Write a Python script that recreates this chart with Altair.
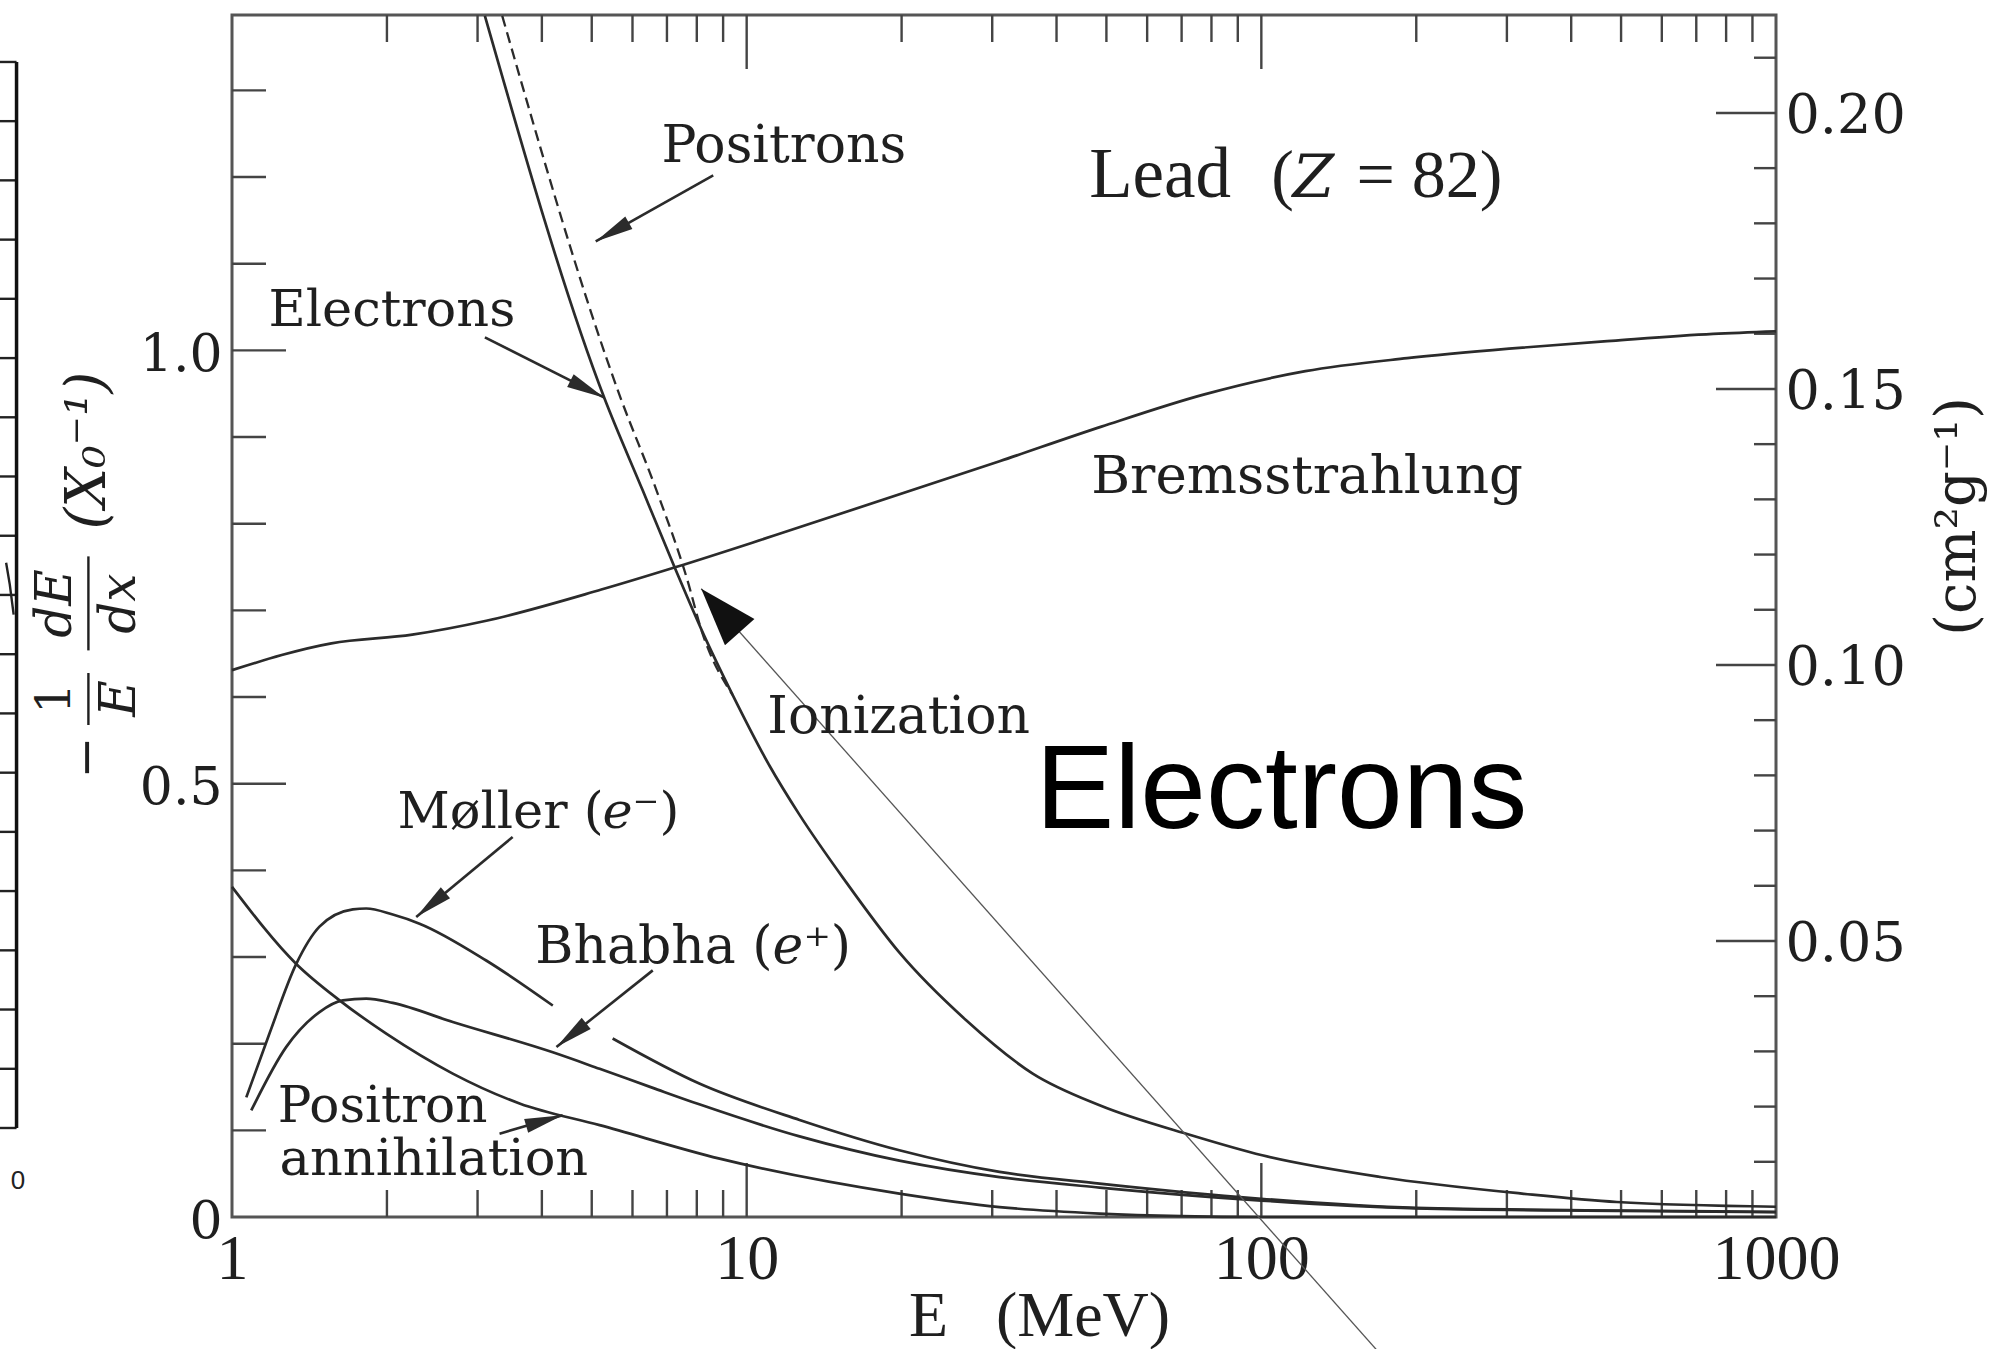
import math
import altair as alt
import pandas as pd

# Plot-area size in pixels and the y extent in units of X0^-1
W, H = 1544, 1202
YMAX = 1.387
X0_LEAD = 6.37  # radiation length of lead in g cm^-2 (X0^-1 -> cm^2 g^-1)

INK = "#2b2b2b"
TXT = "#1f1f1f"

# ---- fractional energy loss per radiation length in lead -----------------
brems_E = [1, 1.56, 2.24, 3.12, 5.22, 7.29, 11.27, 31, 48.9, 77.2, 121.8, 192, 303, 479, 755, 1000]
brems_v = [0.631, 0.662, 0.672, 0.688, 0.724, 0.750, 0.786, 0.872, 0.912, 0.949, 0.976, 0.991,
           1.002, 1.011, 1.019, 1.022]

ion_e_E = [3.10, 5.29, 6.28, 7.24, 8.28, 9.39, 11.07, 12.67, 15.49, 19.81, 26.7, 35.96, 48.5,
           73.1, 100.4, 170.3, 321, 490.6, 1000]
ion_e_v = [1.386, 0.945, 0.8385, 0.750, 0.670, 0.6025, 0.521, 0.464, 0.389, 0.305, 0.227, 0.1655,
           0.1289, 0.0943, 0.0712, 0.0462, 0.027, 0.0173, 0.0118]

ion_p_E = [3.35, 5.69, 6.68, 7.67, 8.17, 9.39]
ion_p_v = [1.386, 0.945, 0.8385, 0.735, 0.677, 0.6025]

moller_lo_E = [1.066, 1.183, 1.333, 1.479, 1.717, 1.823, 2.053, 2.314, 3.118, 4.20]
moller_lo_v = [0.138, 0.212, 0.292, 0.335, 0.355, 0.356, 0.349, 0.3385, 0.296, 0.244]
moller_hi_E = [5.49, 8.09, 12.67, 19.8, 31, 48.5, 100, 200, 500, 1000]
moller_hi_v = [0.206, 0.154, 0.112, 0.077, 0.052, 0.0385, 0.021, 0.0105, 0.0075, 0.006]

bhabha_E = [1.09, 1.274, 1.479, 1.642, 1.823, 2.053, 2.685, 4.20, 5.18, 6.57, 8.09, 12.67, 19.8,
            31, 48.5, 100, 200, 500, 1000]
bhabha_v = [0.123, 0.196, 0.2365, 0.250, 0.252, 0.247, 0.225, 0.190, 0.171, 0.149, 0.130, 0.093,
            0.065, 0.046, 0.034, 0.019, 0.010, 0.007, 0.0055]

annih_E = [1, 1.333, 1.618, 1.994, 2.685, 3.62, 5.18, 8.86, 19.8, 31, 48.5, 70, 100, 1000]
annih_v = [0.381, 0.292, 0.250, 0.2116, 0.1655, 0.131, 0.106, 0.0673, 0.027, 0.0115, 0.004,
           0.001, 0.0, 0.0]

# thin straight guide line ending in the large arrow head
guide_E = [8.16, 167.3]
guide_v = [0.725, -0.153]

# annotation arrows: start -> tip
arrow_E0 = [8.61, 3.10, 3.51, 6.57, 3.31]
arrow_v0 = [1.202, 1.015, 0.4385, 0.2846, 0.0962]
arrow_E1 = [5.09, 5.29, 2.28, 4.27, 4.39]
arrow_v1 = [1.1257, 0.9454, 0.3461, 0.1961, 0.1173]

# tick positions
left_minor = [0.1, 0.2, 0.3, 0.4, 0.6, 0.7, 0.8, 0.9, 1.1, 1.2, 1.3]
left_major = [0.5, 1.0]
right_minor = [0.01, 0.02, 0.03, 0.04, 0.06, 0.07, 0.08, 0.09, 0.11, 0.12, 0.13, 0.14,
               0.16, 0.17, 0.18, 0.19, 0.21]
right_major = [0.05, 0.10, 0.15, 0.20]
x_minor = [2, 3, 4, 5, 6, 7, 8, 9, 20, 30, 40, 50, 60, 70, 80, 90, 200, 300, 400, 500, 600,
           700, 800, 900]
x_major = [10, 100]

# text labels (left end of the baseline, in data units)
serif_text = ["Positrons", "Electrons", "Bremsstrahlung", "Ionization", "Møller (", "⁻)",
              "Bhabha (", "⁺)", "Positron", "annihilation"]
serif_E = [6.83, 1.177, 46.7, 10.97, 2.097, 6.0, 3.885, 12.89, 1.227, 1.237]
serif_v = [1.217, 1.028, 0.836, 0.558, 0.4485, 0.4485, 0.2927, 0.2927, 0.1096, 0.0481]
serif_size = [52, 51, 53, 52, 51, 51, 52, 52, 50, 51]

italic_text = ["e", "e"]
italic_E = [5.246, 11.22]
italic_v = [0.4485, 0.2927]
italic_size = [51, 52]

lead_text = ["Lead", "(", "= 82)"]
lead_E = [46.3, 104.5, 153.0]
lead_v = [1.1765, 1.1765, 1.1765]
lead_size = [71, 68, 68]

# left-hand quantity  -(1/E) dE/dx (X0^-1), typeset as stacked fractions, read bottom-to-top
ylab_text = ["−", "1", "E", "dE", "dx", "(X₀⁻¹)"]
ylab_E = [0.526, 0.456, 0.607, 0.456, 0.607, 0.526]
ylab_v = [0.5304, 0.5984, 0.5984, 0.7078, 0.7078, 0.8844]
ylab_italic = [False, False, True, True, True, True]
ylab_size = [50, 48, 50, 50, 50, 56]
frac_E = [0.526, 0.526]
frac_v0 = [0.5677, 0.6538]
frac_v1 = [0.6277, 0.7623]

# fragment of the neighbouring panel, cut by the left page edge
side_x = [0.3534, 0.3814]            # left page edge, panel frame
side_ticks = [0.1027, 0.1710, 0.2394, 0.3077, 0.3761, 0.4444, 0.5127, 0.5811, 0.6494,
              0.7178, 0.7861, 0.8545, 0.9228, 0.9911, 1.0595, 1.1278, 1.1962, 1.2645, 1.3328]
side_curve_E = [0.3640, 0.3700, 0.3765]
side_curve_v = [0.7550, 0.7300, 0.6950]


def curve(E, v, name):
    return pd.DataFrame({"E": E, "v": v, "curve": name})


def head_angle(E0, v0, E1, v1):
    dx = (math.log10(E1) - math.log10(E0)) * W / 3
    dy = -(v1 - v0) * H / YMAX
    return math.degrees(math.atan2(dx, -dy)) % 360


xs = alt.Scale(type="log", domain=[1, 1000], nice=False)
ys = alt.Scale(domain=[0, YMAX], nice=False, zero=False)
X = alt.X("E:Q", scale=xs, axis=None)
Y = alt.Y("v:Q", scale=ys, axis=None)

x_axis = alt.Axis(orient="bottom", values=[1, 10, 100, 1000], format="d", ticks=False,
                  domain=False, grid=False,
                  labelFont="Liberation Serif", labelFontSize=64, labelColor=TXT, labelPadding=10,
                  labelFlush=False, labelOverlap=False,
                  title="E\u00a0\u00a0\u00a0(MeV)", titleFont="Liberation Serif", titleFontSize=64,
                  titleFontWeight="normal", titleColor=TXT, titleX=807, titleY=118,
                  titleAlign="center", titleBaseline="alphabetic")
y_axis = alt.Axis(orient="left", values=[0, 0.5, 1.0],
                  labelExpr="datum.value == 0 ? '0' : format(datum.value, '.1f')",
                  ticks=False, domain=False, grid=False, title="",
                  labelFont="DejaVu Serif", labelFontSize=52, labelColor=TXT, labelPadding=10,
                  labelOffset=4, labelFlush=False, labelOverlap=False)
# second y axis on the same scale, labelled in cm^2 g^-1
right_axis = alt.Axis(orient="right", values=[k * X0_LEAD for k in right_major],
                      labelExpr=f"format(datum.value / {X0_LEAD}, '.2f')",
                      ticks=False, domain=False, grid=False,
                      labelFont="DejaVu Serif", labelFontSize=54, labelColor=TXT,
                      labelPadding=9, labelOffset=4, labelFlush=False, labelOverlap=False,
                      title="(cm²g⁻¹)", titleFont="DejaVu Serif", titleFontSize=56,
                      titleFontWeight="normal", titleColor=TXT, titleAngle=270, titleX=181,
                      titleY=501, titleAlign="center", titleBaseline="middle")

solid = pd.concat([
    curve(brems_E, brems_v, "brems"),
    curve(ion_e_E, ion_e_v, "ion_e"),
    curve(moller_lo_E, moller_lo_v, "moller_lo"),
    curve(moller_hi_E, moller_hi_v, "moller_hi"),
    curve(bhabha_E, bhabha_v, "bhabha"),
    curve(annih_E, annih_v, "annih"),
])

curves = alt.Chart(solid).mark_line(color=INK, strokeWidth=2.7, interpolate="monotone",
                                    clip=False).encode(X, Y, detail="curve:N")
dashed = alt.Chart(curve(ion_p_E, ion_p_v, "ion_p")).mark_line(
    color=INK, strokeWidth=2.3, strokeDash=[11, 6], interpolate="monotone").encode(X, Y)
guide = alt.Chart(curve(guide_E, guide_v, "guide")).mark_line(
    color="#555555", strokeWidth=1.3, clip=False).encode(X, Y)

arrows = pd.DataFrame({"E0": arrow_E0, "v0": arrow_v0, "E1": arrow_E1, "v1": arrow_v1})
arrows["ang"] = [head_angle(a, b, c, d) for a, b, c, d in zip(arrow_E0, arrow_v0, arrow_E1, arrow_v1)]
shafts = alt.Chart(arrows).mark_rule(color=INK, strokeWidth=2.6).encode(
    x=alt.X("E0:Q", scale=xs, axis=None), y=alt.Y("v0:Q", scale=ys, axis=None),
    x2="E1:Q", y2="v1:Q")
heads = alt.Chart(arrows).mark_point(shape="M0,0L0.38,2L-0.38,2Z", filled=True, size=1444,
                                     color=INK, opacity=1, strokeWidth=0).encode(
    x=alt.X("E1:Q", scale=xs, axis=None), y=alt.Y("v1:Q", scale=ys, axis=None),
    angle=alt.Angle("ang:Q", scale=None))

big_head_df = pd.DataFrame({"E": [guide_E[0]], "v": [guide_v[0]],
                            "ang": [head_angle(guide_E[1], guide_v[1], guide_E[0], guide_v[0])]})
big_head = alt.Chart(big_head_df).mark_point(shape="M0,0L0.68,2L-0.68,2Z", filled=True, size=3364,
                                             color="#111111", opacity=1, strokeWidth=0).encode(
    X, Y, angle=alt.Angle("ang:Q", scale=None))

# inward-pointing ticks on all four sides
tick_style = dict(color="#444444", strokeWidth=2.4)
lmin = alt.Chart(pd.DataFrame({"v": left_minor})).mark_rule(**tick_style).encode(
    y=alt.Y("v:Q", scale=ys, axis=y_axis), x=alt.value(0), x2=alt.value(34))
lmaj = alt.Chart(pd.DataFrame({"v": left_major})).mark_rule(**tick_style).encode(
    Y, x=alt.value(0), x2=alt.value(54))
rmin = alt.Chart(pd.DataFrame({"k": right_minor})).transform_calculate(
    v=f"datum.k * {X0_LEAD}").mark_rule(**tick_style).encode(
    y=alt.Y("v:Q", scale=ys, axis=right_axis), x=alt.value(W - 22), x2=alt.value(W))
rmaj = alt.Chart(pd.DataFrame({"k": right_major})).transform_calculate(
    v=f"datum.k * {X0_LEAD}").mark_rule(**tick_style).encode(
    Y, x=alt.value(W - 60), x2=alt.value(W))
bmin = alt.Chart(pd.DataFrame({"E": x_minor})).mark_rule(**tick_style).encode(
    x=alt.X("E:Q", scale=xs, axis=x_axis), y=alt.value(H), y2=alt.value(H - 27))
bmaj = alt.Chart(pd.DataFrame({"E": x_major})).mark_rule(**tick_style).encode(
    X, y=alt.value(H), y2=alt.value(H - 54))
tmin = alt.Chart(pd.DataFrame({"E": x_minor})).mark_rule(**tick_style).encode(
    X, y=alt.value(0), y2=alt.value(27))
tmaj = alt.Chart(pd.DataFrame({"E": x_major})).mark_rule(**tick_style).encode(
    X, y=alt.value(0), y2=alt.value(54))

# left-hand quantity, rotated
ylab_df = pd.DataFrame({"E": ylab_E, "v": ylab_v, "t": ylab_text, "fs": ylab_size,
                        "it": ylab_italic})
ylab_up = alt.Chart(ylab_df[~ylab_df["it"]]).mark_text(
    angle=270, align="center", baseline="middle", font="DejaVu Serif", color=TXT).encode(
    X, Y, text="t:N", size=alt.Size("fs:Q", scale=None))
ylab_it = alt.Chart(ylab_df[ylab_df["it"]]).mark_text(
    angle=270, align="center", baseline="middle", font="DejaVu Serif", fontStyle="italic",
    color=TXT).encode(X, Y, text="t:N", size=alt.Size("fs:Q", scale=None))
frac_bars = alt.Chart(pd.DataFrame({"E": frac_E, "v0": frac_v0, "v1": frac_v1})).mark_rule(
    color=TXT, strokeWidth=2.4, clip=False).encode(
    X, y=alt.Y("v0:Q", scale=ys, axis=None), y2="v1:Q")

# labels
serif_df = pd.DataFrame({"E": serif_E, "v": serif_v, "t": serif_text, "fs": serif_size})
serif_labels = alt.Chart(serif_df).mark_text(align="left", baseline="alphabetic",
                                             font="DejaVu Serif", color=TXT).encode(
    X, Y, text="t:N", size=alt.Size("fs:Q", scale=None))
italic_df = pd.DataFrame({"E": italic_E, "v": italic_v, "t": italic_text, "fs": italic_size})
italic_labels = alt.Chart(italic_df).mark_text(align="left", baseline="alphabetic",
                                               font="DejaVu Serif", fontStyle="italic",
                                               color=TXT).encode(
    X, Y, text="t:N", size=alt.Size("fs:Q", scale=None))
lead_df = pd.DataFrame({"E": lead_E, "v": lead_v, "t": lead_text, "fs": lead_size})
lead_labels = alt.Chart(lead_df).mark_text(align="left", baseline="alphabetic",
                                           font="Liberation Serif", color=TXT).encode(
    X, Y, text="t:N", size=alt.Size("fs:Q", scale=None))
lead_z = alt.Chart(pd.DataFrame({"E": [115.0], "v": [1.1765], "t": ["Z"]})).mark_text(
    align="left", baseline="alphabetic", font="DejaVu Serif", fontSize=60,
    fontStyle="italic", color=TXT).encode(X, Y, text="t:N")
big_label = alt.Chart(pd.DataFrame({"E": [36.4], "v": [0.4488], "t": ["Electrons"]})).mark_text(
    align="left", baseline="alphabetic", font="Liberation Sans", fontSize=118,
    color="#000000").encode(X, Y, text="t:N")

# neighbouring panel fragment
side_tick_df = pd.DataFrame({"v": side_ticks, "Ea": side_x[0], "Eb": side_x[1]})
side_tick_layer = alt.Chart(side_tick_df).mark_rule(color="#222222", strokeWidth=2.4,
                                                    clip=False).encode(
    x=alt.X("Ea:Q", scale=xs, axis=None), x2="Eb:Q", y=Y)
side_edge = alt.Chart(pd.DataFrame({"E": [side_x[1]], "v0": [side_ticks[0]],
                                    "v1": [side_ticks[-1]]})).mark_rule(
    color="#111111", strokeWidth=3.5, clip=False).encode(
    X, y=alt.Y("v0:Q", scale=ys, axis=None), y2="v1:Q")
side_curve = alt.Chart(curve(side_curve_E, side_curve_v, "side")).mark_line(
    color="#222222", strokeWidth=2.4, clip=False).encode(X, Y)
side_zero = alt.Chart(pd.DataFrame({"E": [0.3840], "v": [0.0420], "s": ["0"]})).mark_text(
    font="Liberation Sans", fontSize=26, color="#222222", align="center",
    baseline="middle").encode(X, Y, text="s:N")

chart = (
    alt.layer(lmin, rmin, bmin, lmaj, rmaj, bmaj, tmin, tmaj, curves, dashed, guide, shafts,
              heads, big_head, serif_labels, italic_labels, lead_labels, lead_z, big_label,
              ylab_up, ylab_it, frac_bars,
              side_tick_layer, side_edge, side_curve, side_zero)
    .resolve_axis(x="independent", y="independent")
    .properties(width=W, height=H, background="white",
                padding={"left": 232, "top": 15, "right": 232, "bottom": 132},
                autosize=alt.AutoSizeParams(type="none"))
    .configure_view(stroke="#555555", strokeWidth=3)
)

chart.save("out.html", embed_options={"renderer": "svg", "actions": False})
